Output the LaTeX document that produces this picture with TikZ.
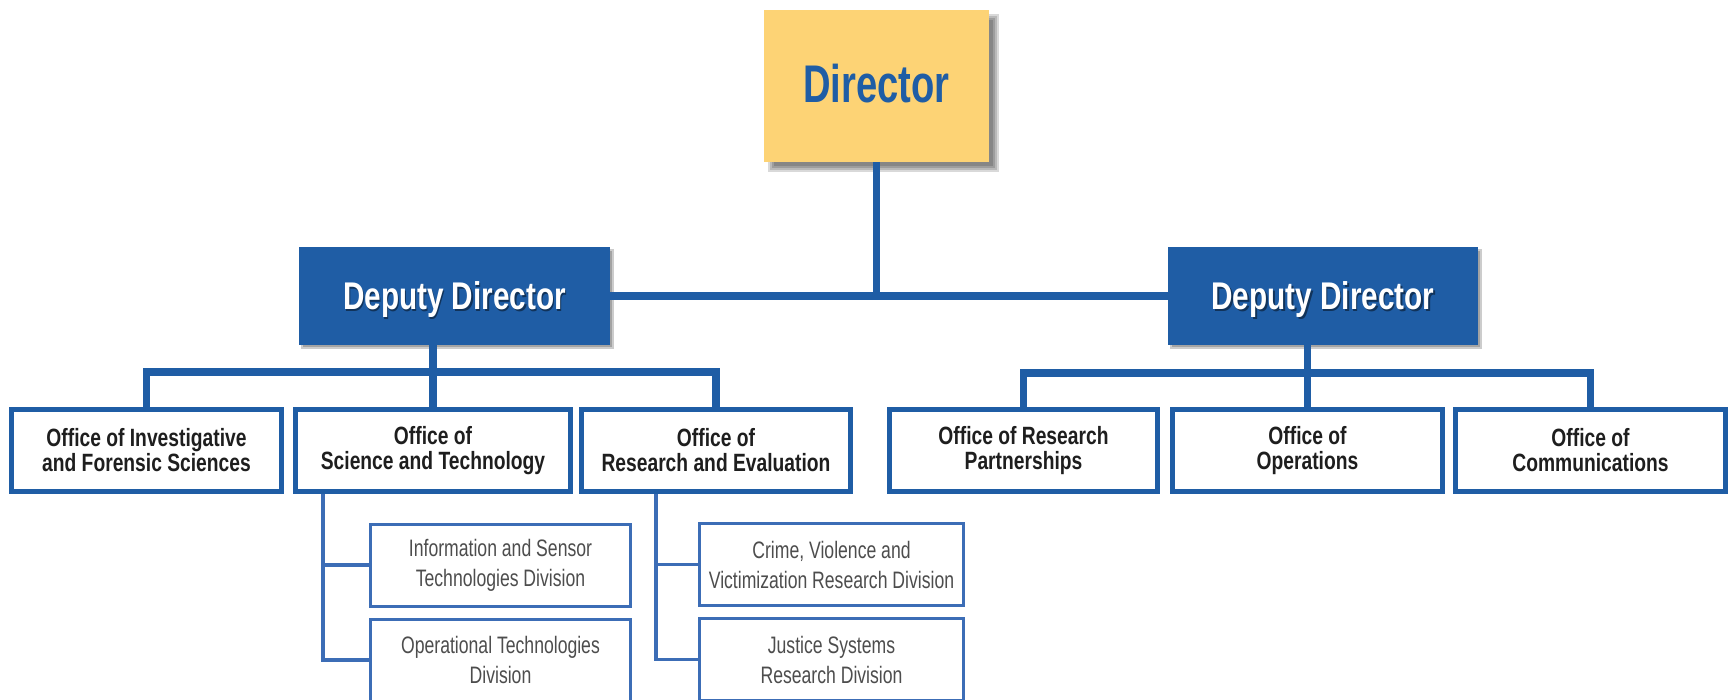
\documentclass[tikz,border=0pt]{standalone}
\usepackage{fontspec}
\setmainfont{Liberation Sans}
\newfontfamily\condfont[FakeStretch=0.77]{Liberation Sans}
\newfontfamily\dirfont[FakeStretch=0.72]{Liberation Sans}
\newfontfamily\subfont[FakeStretch=0.74]{Liberation Sans}
\usetikzlibrary{calc,backgrounds}
\definecolor{nijblue}{HTML}{1F5DA5}
\definecolor{dirfill}{HTML}{FDD375}
\definecolor{subblue}{HTML}{3C6DB6}
\definecolor{subtext}{HTML}{4D4D4D}
\definecolor{offtext}{HTML}{1E1E1E}
\begin{document}
\begin{tikzpicture}[x=0.5pt,y=-0.5pt,
  conn/.style={draw=nijblue, line width=3.6pt},
  subconn/.style={draw=subblue, line width=1.6pt},
  dirbox/.style={fill=dirfill, inner sep=0pt, minimum width=112.5pt, minimum height=76pt},
  dirtext/.style={text=nijblue, font=\dirfont\bfseries\fontsize{26.5}{30}\selectfont, inner sep=0pt, text height=19pt, text depth=0pt},
  depbox/.style={fill=nijblue, inner sep=0pt, minimum width=155.5pt, minimum height=49pt},
  deptext/.style={text=white, font=\condfont\bfseries\fontsize{19.3}{22}\selectfont, inner sep=0pt, text height=13.8pt, text depth=0pt},
  depshadow/.style={deptext, text=black, opacity=0.45},
  offbox/.style={draw=nijblue, line width=2.5pt, fill=white, inner sep=0pt, minimum height=41pt, align=center, text=offtext, font=\condfont\bfseries\fontsize{12.5}{12.5}\selectfont},
  subbox/.style={draw=subblue, line width=1.5pt, fill=white, inner sep=0pt, minimum height=41pt, align=center, text=subtext, font=\subfont\fontsize{11.9}{15}\selectfont},
]
\useasboundingbox (0,0) rectangle (1729,700);

% Director
\node[dirbox] (dir) at (876.5,86) {};
\node[dirtext] (dirt) at (876.5,84) {Director};

% Deputy directors
\node[depbox] (dd1) at (454.5,296) {};
\node[depshadow] (dd1s) at (456,297.5) {Deputy Director};
\node[deptext] (dd1t) at (454.5,296) {Deputy Director};
\node[depbox, minimum width=155pt] (dd2) at (1323,296) {};
\node[depshadow] (dd2s) at (1324.5,297.5) {Deputy Director};
\node[deptext] (dd2t) at (1323,296) {Deputy Director};

% Shadows
\begin{scope}[on background layer]
  \foreach \e in {-3,-1,1,3}
    \fill[black,opacity=0.15] ($(dir.north west)+(7-\e,7-\e)$) rectangle ($(dir.south east)+(7+\e,7+\e)$);
  \foreach \e in {-1,1}
    \fill[black,opacity=0.2] ($(dd1.north west)+(3-\e,3-\e)$) rectangle ($(dd1.south east)+(3+\e,3+\e)$);
  \foreach \e in {-1,1}
    \fill[black,opacity=0.2] ($(dd2.north west)+(3-\e,3-\e)$) rectangle ($(dd2.south east)+(3+\e,3+\e)$);
\end{scope}

% Offices
\node[offbox, minimum width=135pt]   (off1) at (146.5,450.5) {Office of Investigative\\and Forensic Sciences};
\node[offbox, minimum width=137.5pt] (off2) at (433,450.5)   {Office of\\Science and Technology};
\node[offbox, minimum width=134.5pt] (off3) at (716,450.5)   {Office of\\Research and Evaluation};
\node[offbox, minimum width=134pt]   (off4) at (1023.5,450.5) {Office of Research\\Partnerships};
\node[offbox, minimum width=135pt]   (off5) at (1307.5,450.5) {Office of\\Operations};
\node[offbox, minimum width=135pt]   (off6) at (1590.5,450.5) {Office of\\Communications};

% Divisions
\node[subbox, minimum width=130pt] (sub1) at (500.5,565) {Information and Sensor\\Technologies Division};
\node[subbox, minimum width=130pt] (sub2) at (500.5,660) {Operational Technologies\\Division};
\node[subbox, minimum width=132pt] (sub3) at (831.5,564.5) {Crime, Violence and\\Victimization Research Division};
\node[subbox, minimum width=132pt] (sub4) at (831.5,659.5) {Justice Systems\\Research Division};

% Connectors
\draw[conn] (dir.south) -- (dir.south |- dd1.east);
\draw[conn] (dd1.east) -- (dd2.west);
\draw[conn] (dd1.south -| off2.north) -- (off2.north);
\draw[conn] (off1.north) -- ++(0,-35) -| (off3.north);
\draw[conn] (dd2.south -| off5.north) -- (off5.north);
\draw[conn] (off4.north) -- ++(0,-34) -| (off6.north);

\coordinate (v1) at ($(off2.south west)+(30,0)$);
\coordinate (v2) at ($(off3.south west)+(77,0)$);
\draw[subconn] (v1) |- (sub2.west);
\draw[subconn] (sub1.west) -- (sub1.west -| v1);
\draw[subconn] (v2) |- (sub4.west);
\draw[subconn] (sub3.west) -- (sub3.west -| v2);
\end{tikzpicture}
\end{document}
